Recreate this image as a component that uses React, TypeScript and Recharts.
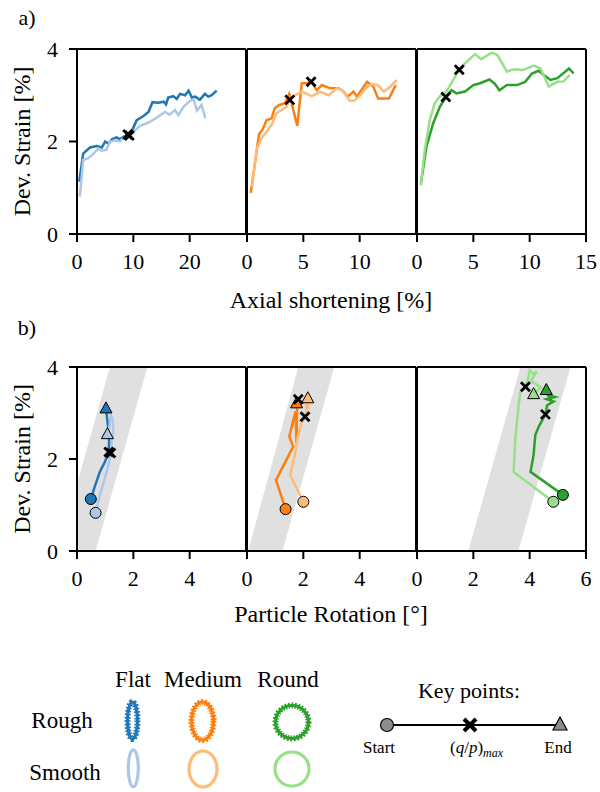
import React from 'react';
import { ComposedChart, Line, Area, Scatter, XAxis, YAxis, ReferenceLine } from 'recharts';

const FONT = '"Liberation Serif", "Times New Roman", serif';

const BLUE = '#1f77b4';
const BLUE_L = '#aec7e8';
const ORANGE = '#ff7f0e';
const ORANGE_L = '#ffbb78';
const GREEN = '#2ca02c';
const GREEN_L = '#98df8a';

// a) axial shortening [%] -> dev. strain [%]
const flatRoughAxial = [[0.4,1.13],[1.1,1.74],[2.3,1.87],[3.5,1.9],[4.4,1.87],[5.0,2.0],[5.6,1.95],[6.2,2.05],[7.0,2.09],[7.6,2.05],[8.8,2.14],[9.5,2.18],[10.0,2.3],[10.6,2.46],[11.8,2.55],[12.7,2.64],[13.4,2.85],[14.4,2.84],[15.4,2.86],[15.8,2.8],[16.2,2.95],[17.1,2.98],[17.7,2.92],[18.3,3.03],[19.2,3.0],[19.8,3.1],[20.4,2.95],[21.0,2.97],[21.8,2.9],[22.7,3.03],[23.3,2.97],[23.9,3.0],[24.8,3.1]];
const flatSmoothAxial = [[0.5,0.81],[1.1,1.6],[2.0,1.64],[2.8,1.72],[3.8,1.85],[4.4,1.8],[5.2,1.82],[5.9,2.0],[6.8,2.02],[7.6,2.0],[8.5,2.1],[9.7,2.18],[11.2,2.34],[12.7,2.41],[14.2,2.52],[15.6,2.64],[16.4,2.58],[17.4,2.68],[18.0,2.57],[18.9,2.75],[20.1,2.88],[20.7,2.91],[21.3,2.67],[22.1,2.79],[22.8,2.5]];
const medRoughAxial = [[0.33,0.89],[1.07,2.16],[1.37,2.25],[1.73,2.46],[2.18,2.5],[2.47,2.72],[2.86,2.79],[3.37,2.83],[3.75,3.03],[4.46,2.34],[4.86,3.26],[5.3,3.26],[5.69,3.29],[6.2,3.11],[6.64,3.22],[7.38,3.15],[8.1,3.15],[8.5,3.1],[8.93,2.97],[9.46,3.08],[9.75,2.97],[10.66,3.29],[11.2,3.19],[11.64,2.93],[12.6,2.93],[13.2,3.22]];
const medSmoothAxial = [[0.45,1.02],[0.84,1.82],[1.28,2.07],[1.73,2.21],[2.18,2.36],[2.62,2.61],[3.07,2.68],[3.5,2.75],[3.8,2.9],[4.26,3.0],[4.86,3.08],[5.75,2.98],[6.5,3.08],[7.23,3.0],[7.98,3.15],[8.5,3.1],[9.1,2.88],[9.5,2.88],[10.06,3.0],[10.66,3.19],[11.1,3.24],[11.6,3.22],[12.15,3.08],[12.74,3.19],[13.28,3.33]];
const roundRoughAxial = [[0.35,1.1],[0.84,1.89],[1.43,2.39],[2.03,2.75],[2.56,2.96],[3.07,3.11],[3.5,3.04],[4.26,3.08],[5.0,3.22],[5.6,3.26],[6.43,3.34],[6.9,3.25],[7.32,3.11],[7.98,3.22],[8.87,3.22],[9.6,3.29],[10.2,3.47],[10.8,3.53],[11.25,3.44],[11.85,3.33],[12.45,3.37],[13.5,3.58],[13.9,3.47]];
const roundSmoothAxial = [[0.33,1.05],[0.69,1.82],[1.13,2.46],[1.58,2.83],[2.03,2.98],[2.62,3.08],[3.21,3.33],[3.75,3.55],[4.26,3.69],[5.15,3.89],[5.69,3.78],[6.64,3.92],[7.14,3.87],[7.98,3.51],[8.4,3.55],[8.87,3.56],[9.3,3.54],[9.77,3.58],[10.36,3.64],[10.96,3.58],[11.7,3.19],[12.45,3.29],[13.0,3.3],[13.57,3.44]];

// b) particle rotation [deg] -> dev. strain [%]
const flatRoughRot = [[0.49,1.13],[0.63,1.4],[0.81,1.72],[0.99,1.94],[1.13,2.15],[1.14,2.38],[1.11,2.67],[1.07,2.88],[1.03,3.1]];
const flatSmoothRot = [[0.66,0.83],[0.81,1.22],[0.99,1.58],[1.14,1.94],[1.2,2.13],[1.23,2.38],[1.29,2.6],[1.27,2.85],[1.2,2.95],[1.15,2.7],[1.08,2.54]];
const medRoughRot = [[1.37,0.91],[1.03,1.54],[1.64,2.27],[1.5,2.49],[1.62,2.78],[1.72,3.03],[1.76,2.34],[1.78,3.26],[1.82,3.3],[1.74,3.15],[1.8,3.22],[1.76,3.21]];
const medSmoothRot = [[2.0,1.07],[1.53,1.65],[1.7,2.09],[1.82,2.52],[1.94,2.78],[2.06,2.92],[2.12,3.07],[2.1,3.2],[2.18,3.1],[2.14,3.25],[2.16,3.32]];
const roundRoughRot = [[5.18,1.22],[4.03,1.72],[4.14,2.09],[4.2,2.52],[4.32,2.7],[4.56,2.97],[4.62,3.17],[4.85,3.25],[4.6,3.3],[4.9,3.35],[4.62,3.4],[4.8,3.3],[4.59,3.5]];
const roundSmoothRot = [[4.84,1.07],[3.43,1.72],[3.49,2.45],[3.61,3.17],[3.67,3.46],[3.85,3.57],[3.95,3.75],[4.0,3.93],[4.12,3.85],[4.25,3.9],[4.05,3.7],[4.4,3.55],[4.3,3.5],[4.14,3.41]];

// (q/p)max points
const peaksAxial = [[[9.0,2.15],[9.3,2.13]], [[5.69,3.29],[3.8,2.9]], [[2.56,2.96],[3.75,3.55]]];
const peaksRot = [[[1.13,2.15],[1.2,2.13]], [[1.82,3.3],[2.06,2.92]], [[4.56,2.97],[3.85,3.57]]];

// grey band corners: [left, right] at strain 0 and at strain 4
const bandBottom = [[-0.67,0.66],[0.04,1.26],[1.82,3.6]];
const bandTop = [[1.17,2.5],[1.82,3.1],[3.67,5.45]];

const axialTicks = [[0,10,20],[0,5,10],[0,5,10,15]];
const rotTicks = [[0,2,4],[0,2,4],[0,2,4,6]];
const strainTicks = [0, 2, 4];

const colors = [[BLUE, BLUE_L], [ORANGE, ORANGE_L], [GREEN, GREEN_L]];

const toPts = (arr: number[][]) => arr.map(([x, y]) => ({ x, y }));

function bandData(bottom: number[], top: number[], xMax: number) {
  const [bl, br] = bottom;
  const [tl, tr] = top;
  const clamp = (v: number) => Math.max(0, Math.min(4, v));
  const hi = (x: number) => clamp((4 * (x - bl)) / (tl - bl));
  const lo = (x: number) => clamp((4 * (x - br)) / (tr - br));
  const xs = [0, bl, br, tl, tr, xMax].filter((x) => x >= 0 && x <= xMax).sort((a, b) => a - b);
  return xs.map((x) => ({ x, band: [lo(x), hi(x)] }));
}

const XMark = (props: any) => {
  const { cx, cy } = props;
  const s = 4.5;
  return (
    <path d={`M${cx - s},${cy - s}L${cx + s},${cy + s}M${cx - s},${cy + s}L${cx + s},${cy - s}`} stroke="#000" strokeWidth={2.8} />
  );
};

const makeDot = (fill: string) => (props: any) => (
  <circle cx={props.cx} cy={props.cy} r={5.5} fill={fill} stroke="#000" strokeWidth={1} />
);

const makeTri = (fill: string) => (props: any) => {
  const { cx, cy } = props;
  return <path d={`M${cx},${cy - 6.5}L${cx + 6},${cy + 4.5}L${cx - 6},${cy + 4.5}Z`} fill={fill} stroke="#000" strokeWidth={1} />;
};

const axisStyle = { stroke: '#000', strokeWidth: 2 };
const tickStyle = { fill: '#000', fontSize: 22, fontFamily: FONT };

function Panel(props: any) {
  const { left, top, w, h, xMax, xTicks, showY, rough, smooth, peaks, band, c, keyPts } = props;
  const ml = 50;
  const mt = 20;
  return (
    <div style={{ position: 'absolute', left: left - ml, top: top - mt }}>
      <ComposedChart width={ml + w + 15} height={mt + h + 55} margin={{ top: mt, right: 15, bottom: 0, left: showY ? 0 : ml }}>
        <XAxis type="number" dataKey="x" domain={[0, xMax]} ticks={xTicks} interval={0} allowDataOverflow height={55}
          tickSize={8} tickMargin={11} axisLine={axisStyle} tickLine={axisStyle} tick={tickStyle} />
        <YAxis type="number" dataKey="y" domain={[0, 4]} ticks={strainTicks} interval={0} allowDataOverflow width={ml} hide={!showY}
          tickSize={8} tickMargin={11} axisLine={axisStyle} tickLine={axisStyle} tick={tickStyle} />
        {band && (
          <Area data={band} dataKey="band" type="linear" fill="#e0e0e0" fillOpacity={1} stroke="none" isAnimationActive={false} />
        )}
        <ReferenceLine y={4} stroke="#000" strokeWidth={2} />
        <ReferenceLine x={xMax} stroke="#000" strokeWidth={2} />
        {!showY && <ReferenceLine x={0} stroke="#000" strokeWidth={2} />}
        <Line data={toPts(rough)} dataKey="y" type="linear" stroke={c[0]} strokeWidth={2.5} dot={false} isAnimationActive={false} />
        <Line data={toPts(smooth)} dataKey="y" type="linear" stroke={c[1]} strokeWidth={2.5} dot={false} isAnimationActive={false} />
        {keyPts && (
          <Scatter data={toPts([rough[0]])} shape={makeDot(c[0])} isAnimationActive={false} />
        )}
        {keyPts && (
          <Scatter data={toPts([smooth[0]])} shape={makeDot(c[1])} isAnimationActive={false} />
        )}
        {keyPts && (
          <Scatter data={toPts([rough[rough.length - 1]])} shape={makeTri(c[0])} isAnimationActive={false} />
        )}
        {keyPts && (
          <Scatter data={toPts([smooth[smooth.length - 1]])} shape={makeTri(c[1])} isAnimationActive={false} />
        )}
        <Scatter data={toPts(peaks)} shape={XMark} isAnimationActive={false} />
      </ComposedChart>
    </div>
  );
}

function Grain({ cx, cy, rx, ry, color, rough }: any) {
  return (
    <g>
      {rough && <ellipse cx={cx} cy={cy} rx={rx} ry={ry} fill="none" stroke={color} strokeWidth={6} strokeDasharray="1.6 1.6" />}
      <ellipse cx={cx} cy={cy} rx={rx} ry={ry} fill="none" stroke={color} strokeWidth={3.2} />
    </g>
  );
}

const lefts = [77, 247, 417];
const roughAxial = [flatRoughAxial, medRoughAxial, roundRoughAxial];
const smoothAxial = [flatSmoothAxial, medSmoothAxial, roundSmoothAxial];
const roughRot = [flatRoughRot, medRoughRot, roundRoughRot];
const smoothRot = [flatSmoothRot, medSmoothRot, roundSmoothRot];
const axialMax = [30, 15, 15];

export default function App() {
  return (
    <div style={{ position: 'absolute', left: 0, top: 0, width: 600, height: 792, background: '#fff', fontFamily: FONT }}>
      {lefts.map((l, i) => (
        <Panel key={'a' + i} left={l} top={49} w={169} h={185} xMax={axialMax[i]} xTicks={axialTicks[i]} showY={i === 0}
          rough={roughAxial[i]} smooth={smoothAxial[i]} peaks={peaksAxial[i]} c={colors[i]} />
      ))}
      {lefts.map((l, i) => (
        <Panel key={'b' + i} left={l} top={367} w={169} h={184} xMax={6} xTicks={rotTicks[i]} showY={i === 0}
          rough={roughRot[i]} smooth={smoothRot[i]} peaks={peaksRot[i]} c={colors[i]} keyPts
          band={bandData(bandBottom[i], bandTop[i], 6)} />
      ))}
      <svg width={600} height={792} style={{ position: 'absolute', left: 0, top: 0, pointerEvents: 'none' }} fontFamily={FONT}>
        <text x={27} y={25} fontSize={22} textAnchor="middle">a)</text>
        <text x={27} y={335} fontSize={22} textAnchor="middle">b)</text>
        <text transform="translate(30,141.5) rotate(-90)" fontSize={24} textAnchor="middle">Dev. Strain [%]</text>
        <text transform="translate(30,459) rotate(-90)" fontSize={24} textAnchor="middle">Dev. Strain [%]</text>
        <text x={331} y={308} fontSize={24} textAnchor="middle">Axial shortening [%]</text>
        <text x={331} y={622} fontSize={24} textAnchor="middle">Particle Rotation [°]</text>

        <text x={133} y={687} fontSize={23} textAnchor="middle">Flat</text>
        <text x={203} y={687} fontSize={23} textAnchor="middle">Medium</text>
        <text x={288} y={687} fontSize={23} textAnchor="middle">Round</text>
        <text x={62} y={728} fontSize={23} textAnchor="middle">Rough</text>
        <text x={65} y={780} fontSize={23} textAnchor="middle">Smooth</text>

        <Grain cx={132.5} cy={720.5} rx={5} ry={18.5} color={BLUE} rough />
        <Grain cx={202.5} cy={721} rx={11} ry={19} color={ORANGE} rough />
        <Grain cx={292} cy={722} rx={16.5} ry={16.5} color={GREEN} rough />
        <Grain cx={133.3} cy={768.3} rx={5} ry={18.4} color={BLUE_L} />
        <Grain cx={203} cy={769} rx={14} ry={18} color={ORANGE_L} />
        <Grain cx={292} cy={769} rx={17} ry={17} color={GREEN_L} />

        <text x={469} y={698} fontSize={22} textAnchor="middle">Key points:</text>
        <line x1={387} y1={725} x2={560} y2={725} stroke="#000" strokeWidth={1.8} />
        <circle cx={387} cy={725} r={6.5} fill="#8c8c8c" stroke="#000" strokeWidth={1.2} />
        <path d="M464,719L476,731M464,731L476,719" stroke="#000" strokeWidth={4} />
        <path d="M560,717L567,730L553,730Z" fill="#8c8c8c" stroke="#000" strokeWidth={1.2} />
        <text x={379} y={753} fontSize={17} textAnchor="middle">Start</text>
        <text x={450} y={753} fontSize={17}>
          (<tspan fontStyle="italic">q</tspan>/<tspan fontStyle="italic">p</tspan>)
          <tspan fontStyle="italic" fontSize={12} dy={4}>max</tspan>
        </text>
        <text x={558} y={753} fontSize={17} textAnchor="middle">End</text>
      </svg>
    </div>
  );
}
